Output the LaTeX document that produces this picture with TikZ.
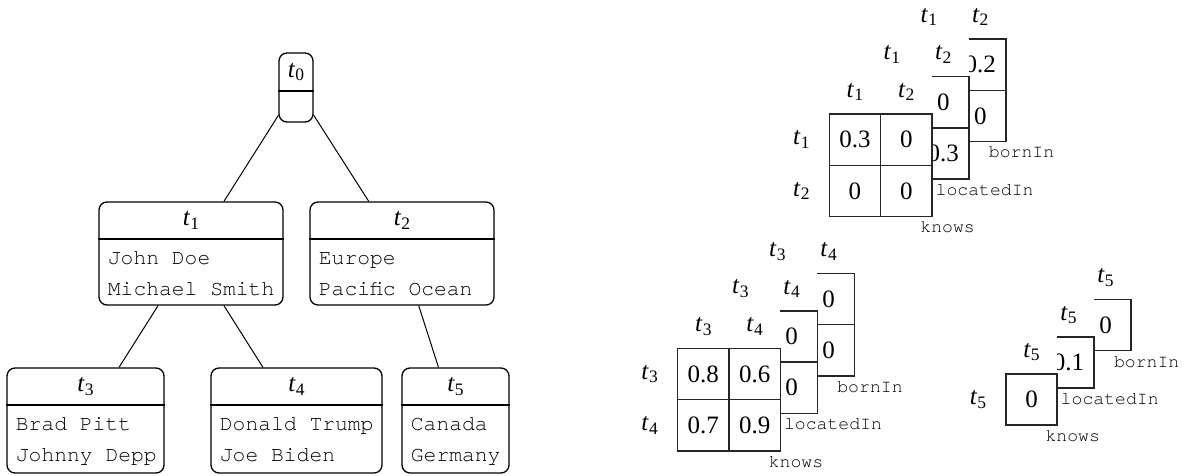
\documentclass[tikz,border=0pt]{standalone}
\usepackage{fontspec}
\setmainfont{Liberation Serif}
\setmonofont{TeX Gyre Cursor}
\usetikzlibrary{fit,calc}
\newcommand\tsub[1]{\textit{t}\kern0.01em\raisebox{-0.32ex}{\fontsize{8.75}{9}\selectfont #1}}
\tikzset{
  tbox/.style={draw, rounded corners=4pt, line width=0.65pt, inner sep=0pt},
  divline/.style={line width=0.65pt},
  ttl/.style={font=\fontsize{12.5}{15}\selectfont, inner sep=0pt},
  body/.style={font=\fontsize{10.67}{12}\selectfont\ttfamily, anchor=base west, inner sep=0pt},
  edge/.style={line width=0.5pt},
  cell/.style={draw=black!85, line width=0.75pt, minimum size=#1, inner sep=0pt, font=\fontsize{12.5}{15}\selectfont},
  hdr/.style={font=\fontsize{12.5}{15}\selectfont, inner sep=0pt},
  rel/.style={font=\fontsize{9.07}{10}\selectfont\ttfamily, inner sep=0pt},
}
\begin{document}
\begin{tikzpicture}[x=0.5pt,y=-0.5pt]
\useasboundingbox (0,0) rectangle (1188,476);
% ---------- tree ----------
\coordinate (a0) at (279,53);  \coordinate (b0) at (313,122);
\coordinate (a1) at (99,202);  \coordinate (b1) at (283,305);
\coordinate (a2) at (310,202); \coordinate (b2) at (494,305);
\coordinate (a3) at (7,368);   \coordinate (b3) at (164,473);
\coordinate (a4) at (211,368); \coordinate (b4) at (382,473);
\coordinate (a5) at (402,368); \coordinate (b5) at (509,473);
\node[tbox, fit=(a0)(b0)] (t0) {};
\node[tbox, fit=(a1)(b1)] (t1) {};
\node[tbox, fit=(a2)(b2)] (t2) {};
\node[tbox, fit=(a3)(b3)] (t3) {};
\node[tbox, fit=(a4)(b4)] (t4) {};
\node[tbox, fit=(a5)(b5)] (t5) {};
\draw[divline] (t0.west |- 0,91) -- (t0.east |- 0,91);
\draw[divline] (t1.west |- 0,239) -- (t1.east |- 0,239);
\draw[divline] (t2.west |- 0,239) -- (t2.east |- 0,239);
\draw[divline] (t3.west |- 0,405) -- (t3.east |- 0,405);
\draw[divline] (t4.west |- 0,405) -- (t4.east |- 0,405);
\draw[divline] (t5.west |- 0,405) -- (t5.east |- 0,405);
\node[ttl] (t0h) at (296,72) {\tsub{0}};
\node[ttl] (t1h) at (191,220.5) {\tsub{1}};
\node[ttl] (t2h) at (402,220.5) {\tsub{2}};
\node[ttl] (t3h) at (85.5,386.5) {\tsub{3}};
\node[ttl] (t4h) at (296.5,386.5) {\tsub{4}};
\node[ttl] (t5h) at (455.5,386.5) {\tsub{5}};
\node[body] (t1a) at (107.5,264) {John Doe};
\node[body] (t1b) at (107.5,295) {Michael Smith};
\node[body] (t2a) at (318.5,264) {Europe};
\node[body] (t2b) at (318.5,295) {Pacific Ocean};
\node[body] (t3a) at (15.5,430.5) {Brad Pitt};
\node[body] (t3b) at (15.5,461.5) {Johnny Depp};
\node[body] (t4a) at (219.5,430.5) {Donald Trump};
\node[body] (t4b) at (219.5,461.5) {Joe Biden};
\node[body] (t5a) at (410.5,430.5) {Canada};
\node[body] (t5b) at (410.5,461.5) {Germany};
\draw[edge] (t0) -- (t1);
\draw[edge] (t0) -- (t2);
\draw[edge] (t1) -- (t3);
\draw[edge] (t1) -- (t4);
\draw[edge] (t2) -- (t5);
% ---------- 2x2 matrices ----------
\def\cs{51.3}
\def\ia{1}\def\ib{2}
\foreach \nm/\L/\T/\rl/\va/\vb/\vc/\vd in {
  mAb/903.3/39/bornIn/{}/0.2/{}/0,
  mAm/866.3/76.5/locatedIn/{}/0/{}/0.3,
  mAf/829.3/114/knows/0.3/0/0/0}{
  \fill[white] ({\L-45},{\T-40}) rectangle ({\L+2*\cs},{\T+2*\cs});
  \node[cell=\cs*0.5pt] (\nm-11) at ({\L+0.5*\cs},{\T+0.5*\cs}) {\va};
  \node[cell=\cs*0.5pt] (\nm-12) at ({\L+1.5*\cs},{\T+0.5*\cs}) {\vb};
  \node[cell=\cs*0.5pt] (\nm-21) at ({\L+0.5*\cs},{\T+1.5*\cs}) {\vc};
  \node[cell=\cs*0.5pt] (\nm-22) at ({\L+1.5*\cs},{\T+1.5*\cs}) {\vd};
  \node[hdr] (\nm-c1) at ({\L+0.5*\cs},{\T-22}) {\tsub{\ia}};
  \node[hdr] (\nm-c2) at ({\L+1.5*\cs},{\T-22}) {\tsub{\ib}};
  \node[rel] (\nm-l) at ({\L+2*\cs+15.7},{\T+2*\cs+11}) {\rl};
}
\node[hdr] (mAf-r1) at (801.3,139.6) {\tsub{1}};
\node[hdr] (mAf-r2) at (801.3,190.9) {\tsub{2}};
\def\ia{3}\def\ib{4}
\foreach \nm/\L/\T/\rl/\va/\vb/\vc/\vd in {
  mBb/751.7/273.3/bornIn/{}/0/{}/0,
  mBm/714.7/310.8/locatedIn/{}/0/{}/0,
  mBf/677.7/348.3/knows/0.8/0.6/0.7/0.9}{
  \fill[white] ({\L-45},{\T-40}) rectangle ({\L+2*\cs},{\T+2*\cs});
  \node[cell=\cs*0.5pt] (\nm-11) at ({\L+0.5*\cs},{\T+0.5*\cs}) {\va};
  \node[cell=\cs*0.5pt] (\nm-12) at ({\L+1.5*\cs},{\T+0.5*\cs}) {\vb};
  \node[cell=\cs*0.5pt] (\nm-21) at ({\L+0.5*\cs},{\T+1.5*\cs}) {\vc};
  \node[cell=\cs*0.5pt] (\nm-22) at ({\L+1.5*\cs},{\T+1.5*\cs}) {\vd};
  \node[hdr] (\nm-c1) at ({\L+0.5*\cs},{\T-22}) {\tsub{\ia}};
  \node[hdr] (\nm-c2) at ({\L+1.5*\cs},{\T-22}) {\tsub{\ib}};
  \node[rel] (\nm-l) at ({\L+2*\cs+15.7},{\T+2*\cs+11}) {\rl};
}
\node[hdr] (mBf-r1) at (649.7,373.9) {\tsub{3}};
\node[hdr] (mBf-r2) at (649.7,425.2) {\tsub{4}};
% ---------- 1x1 matrices ----------
\def\cs{51}
\foreach \nm/\L/\T/\rl/\va in {
  mCb/1080/299.7/bornIn/0,
  mCm/1043/337/locatedIn/0.1,
  mCf/1006/374/knows/0}{
  \fill[white] ({\L-45},{\T-40}) rectangle ({\L+\cs},{\T+\cs});
  \node[cell=\cs*0.5pt] (\nm-11) at ({\L+0.5*\cs},{\T+0.5*\cs}) {\va};
  \node[hdr] (\nm-c1) at ({\L+0.5*\cs},{\T-22}) {\tsub{5}};
  \node[rel] (\nm-l) at ({\L+\cs+15.7},{\T+\cs+11}) {\rl};
}
\node[hdr] (mCf-r1) at (978,399.5) {\tsub{5}};
\end{tikzpicture}
\end{document}
